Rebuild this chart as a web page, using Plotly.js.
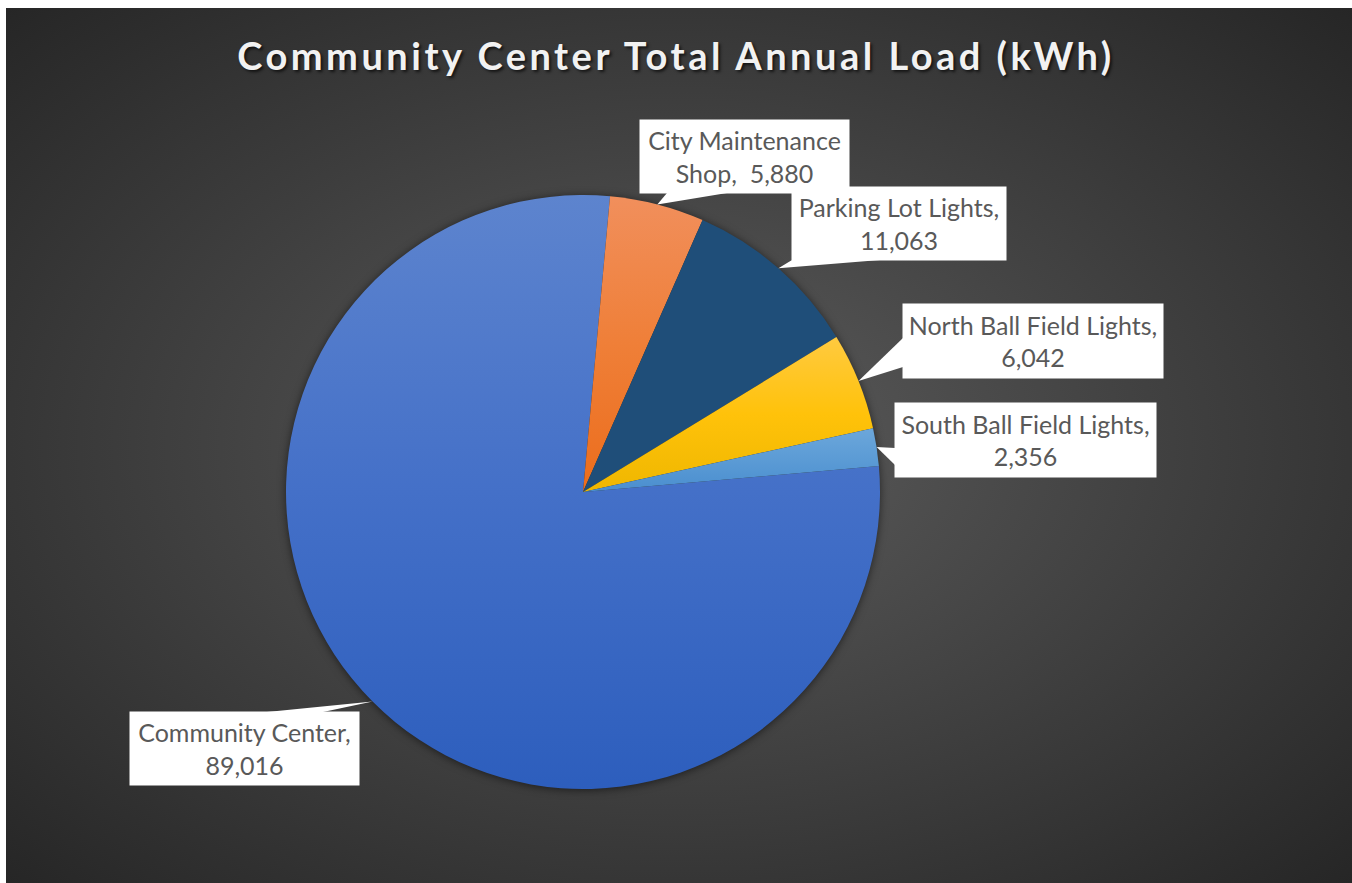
<!DOCTYPE html>
<html>
<head>
<meta charset="utf-8">
<script src="https://cdn.plot.ly/plotly-3.0.1.min.js"></script>
<style>
  html, body { margin: 0; padding: 0; background: #ffffff; }
  #frame {
    position: absolute; left: 6px; top: 8px; width: 1346px; height: 875px;
    background: radial-gradient(ellipse farthest-corner at 50% 50%, #5c5c5c 0%, #262626 100%);
  }
  #chart { position: absolute; left: 0; top: 0; width: 1352px; height: 883px; }
  #chart .gtitle { letter-spacing: 3.5px; }
  #chart .pielayer { filter: drop-shadow(0px 1px 4px rgba(0,0,0,0.55)); }
</style>
</head>
<body>
<div id="frame"></div>
<div id="chart"></div>
<script>
// Annual load per meter (kWh)
const categories = [
  "Community Center",
  "City Maintenance Shop",
  "Parking Lot Lights",
  "North Ball Field Lights",
  "South Ball Field Lights"
];
const loads = [89016, 5880, 11063, 6042, 2356];
// How each callout wraps its category name before the value
const calloutPrefix = [
  "Community Center,<br>",
  "City Maintenance<br>Shop,  ",
  "Parking Lot Lights,<br>",
  "North Ball Field Lights,<br>",
  "South Ball Field Lights,<br>"
];
const sliceColors = ["#4472C4", "#ED7D31", "#1F4E79", "#FFC000", "#5B9BD5"];
// Vertical shading of each slice: [top, middle, bottom]
const sliceShades = [
  ["#5D84CE", "#4470C8", "#2D5EBD"],
  ["#F18F5C", "#EF7F38", "#EC6D1C"],
  ["#1F4E79", "#1F4E79", "#1F4E79"],
  ["#FFCA40", "#FFC20A", "#EFB700"],
  ["#6CA7DB", "#5B9BD5", "#4A8ECF"]
];

// Page geometry (pixels)
const W = 1352, H = 883;
const CX = 583, CY = 492, R = 297;   // pie centre and radius
const ROT = 85;                       // angle where the first slice starts

// Callout boxes: left, top, width, height, and where the pointer leaves the box
const boxes = [
  { left: 130, top: 712, w: 229, h: 73, edge: "top",    a: 267, b: 323 },
  { left: 640, top: 120, w: 209, h: 73, edge: "bottom", a: 667, b: 727 },
  { left: 792, top: 187, w: 214, h: 73, edge: "bottom", a: 792, b: 880 },
  { left: 903, top: 304, w: 260, h: 74, edge: "left",   a: 338, b: 367 },
  { left: 895, top: 403, w: 261, h: 74, edge: "left",   a: 448, b: 465 }
];

const px = x => x / W;
const py = y => 1 - y / H;
const fmt = v => v.toLocaleString("en-US");

const total = loads.reduce((s, v) => s + v, 0);
let cum = 0;
const shapes = [];
const annotations = [];
loads.forEach((v, i) => {
  const mid = (ROT + (cum + v / 2) / total * 360) * Math.PI / 180;
  cum += v;
  const tx = CX + R * Math.sin(mid);
  const ty = CY - R * Math.cos(mid);
  const bx = boxes[i];
  let p0, p1;
  if (bx.edge === "top")    { p0 = [bx.a, bx.top];        p1 = [bx.b, bx.top]; }
  if (bx.edge === "bottom") { p0 = [bx.a, bx.top + bx.h]; p1 = [bx.b, bx.top + bx.h]; }
  if (bx.edge === "left")   { p0 = [bx.left, bx.a];       p1 = [bx.left, bx.b]; }
  shapes.push({
    type: "path", xref: "paper", yref: "paper", layer: "above",
    path: `M ${px(tx)} ${py(ty)} L ${px(p0[0])} ${py(p0[1])} L ${px(p1[0])} ${py(p1[1])} Z`,
    fillcolor: "#ffffff", line: { width: 0 }
  });
  annotations.push({
    xref: "paper", yref: "paper",
    x: px(bx.left + bx.w / 2), y: py(bx.top + bx.h / 2),
    xanchor: "center", yanchor: "middle",
    width: bx.w, height: bx.h, borderpad: 0,
    bgcolor: "#ffffff", showarrow: false,
    align: "center", valign: "middle",
    text: calloutPrefix[i] + fmt(v),
    font: { family: "Lato, 'Open Sans', sans-serif", size: 25, color: "#595959" }
  });
});

const trace = {
  type: "pie",
  labels: categories,
  values: loads,
  sort: false,
  direction: "clockwise",
  rotation: ROT,
  textinfo: "none",
  hoverinfo: "label+value+percent",
  showlegend: false,
  marker: { colors: sliceColors, line: { width: 0 } },
  domain: { x: [px(CX - R), px(CX + R)], y: [py(CY + R), py(CY - R)] }
};

const layout = {
  width: W, height: H,
  margin: { l: 0, r: 0, t: 0, b: 0 },
  paper_bgcolor: "rgba(0,0,0,0)",
  plot_bgcolor: "rgba(0,0,0,0)",
  title: {
    text: "Community Center Total Annual Load (kWh)",
    x: 0.5, xanchor: "center",
    y: py(57), yanchor: "middle",
    font: { family: "Lato, 'Open Sans', sans-serif", size: 38, weight: 700, color: "#f2f2f2",
            shadow: "2px 2px 3px rgba(0,0,0,0.65)" }
  },
  shapes: shapes,
  annotations: annotations
};

Plotly.newPlot("chart", [trace], layout, { displayModeBar: false, staticPlot: true }).then(gd => {
  // Give each slice a top-to-bottom shade
  const svg = gd.querySelector(".main-svg");
  const NS = "http://www.w3.org/2000/svg";
  let defs = svg.querySelector("defs");
  if (!defs) { defs = document.createElementNS(NS, "defs"); svg.insertBefore(defs, svg.firstChild); }
  sliceShades.forEach((stops, i) => {
    const g = document.createElementNS(NS, "linearGradient");
    g.setAttribute("id", "sliceShade" + i);
    g.setAttribute("x1", "0"); g.setAttribute("y1", "0");
    g.setAttribute("x2", "0"); g.setAttribute("y2", "1");
    stops.forEach((c, k) => {
      const s = document.createElementNS(NS, "stop");
      s.setAttribute("offset", String(k / (stops.length - 1)));
      s.setAttribute("stop-color", c);
      g.appendChild(s);
    });
    defs.appendChild(g);
  });
  gd.querySelectorAll(".slice path.surface").forEach((p, i) => {
    p.style.fill = "url(#sliceShade" + i + ")";
  });
});
</script>
</body>
</html>
